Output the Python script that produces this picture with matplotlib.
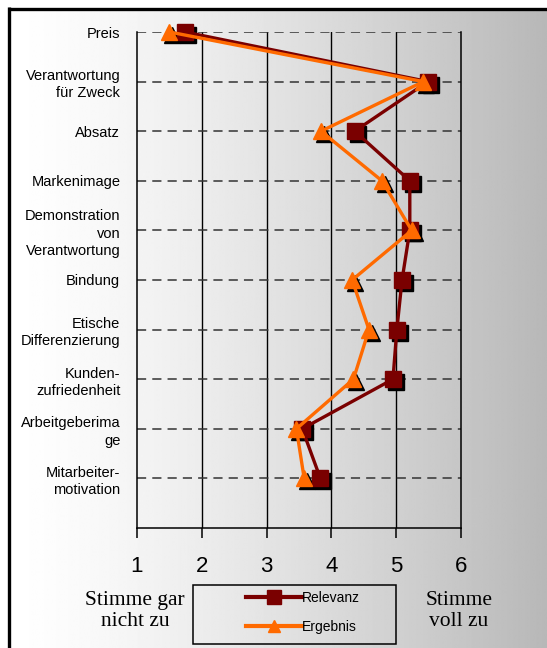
import numpy as np
import matplotlib
matplotlib.use('Agg')
import matplotlib.pyplot as plt
from matplotlib.lines import Line2D
from matplotlib.patches import Rectangle
from matplotlib.transforms import offset_copy

# Kategorien von oben nach unten
kategorien = ['Preis', 'Verantwortung\nfür Zweck', 'Absatz', 'Markenimage',
              'Demonstration\nvon\nVerantwortung', 'Bindung', 'Etische\nDifferenzierung',
              'Kunden-\nzufriedenheit', 'Arbeitgeberima\nge', 'Mitarbeiter-\nmotivation']

# Mittelwerte (1 = stimme gar nicht zu, 6 = stimme voll zu)
relevanz = [1.74, 5.49, 4.36, 5.21, 5.21, 5.09, 5.01, 4.95, 3.55, 3.83]
ergebnis = [1.50, 5.42, 3.84, 4.78, 5.24, 4.32, 4.58, 4.34, 3.46, 3.58]

x_ticks = [1, 2, 3, 4, 5, 6]

W, H = 547, 648
fig = plt.figure(figsize=(W / 100, H / 100), dpi=100)

# Hintergrund mit Farbverlauf und Rahmen (in Pixelkoordinaten)
bg = fig.add_axes([0, 0, 1, 1], zorder=-5)
bg.set_xlim(0, W)
bg.set_ylim(H, 0)
bg.axis('off')
t = np.linspace(0, 1, 400)
grau = 1 - 0.28 * t ** 1.3
bg.imshow(np.tile(grau, (2, 1)), cmap='gray', vmin=0, vmax=1, aspect='auto',
          extent=(10, W, H, 10), interpolation='bilinear')
bg.plot([8, W], [8.5, 8.5], color='black', lw=2.4, solid_capstyle='butt')
bg.plot([9, 9], [7.3, H], color='black', lw=2.4, solid_capstyle='butt')

# Legendenrahmen
bg.add_patch(Rectangle((193, 585), 203, 59, fill=False, edgecolor='black', lw=1.1))

# Texte unter der Achse
bg.text(135, 611, 'Stimme gar\nnicht zu', ha='center', va='center', fontsize=15.5,
        family='Liberation Serif', linespacing=1.15)
bg.text(459, 611, 'Stimme\nvoll zu', ha='center', va='center', fontsize=15.5,
        family='Liberation Serif', linespacing=1.15)

ax = fig.add_axes([137 / W, 1 - 528 / H, 324 / W, 496 / H])
ax.patch.set_alpha(0)
ax.set_xlim(1, 6)
ax.set_ylim(10, 0)

y = np.arange(len(kategorien))

# Gitterlinien
for v in x_ticks[1:-1]:
    ax.axvline(v, color='black', lw=1.0, zorder=1)
for yy in y:
    ax.axhline(yy, color='#333333', lw=1.1, dashes=(6, 4), zorder=1)

for s in ['left', 'right', 'bottom']:
    ax.spines[s].set_linewidth(1.1)
ax.spines['top'].set_visible(False)

ax.set_xticks(x_ticks)
ax.set_xticklabels([str(v) for v in x_ticks], fontsize=16, family='Liberation Sans')
ax.tick_params(axis='x', length=7, width=1.1, pad=13)
ax.set_yticks(y)
ax.set_yticklabels(kategorien, fontsize=10.5, family='Liberation Sans', linespacing=1.3)
ax.tick_params(axis='y', length=0, pad=12)
for lab in ax.get_yticklabels():
    lab.set_horizontalalignment('right')

rot = '#7a0000'
orange = '#ff6a00'

# Schatten der Marker
schatten = offset_copy(ax.transData, fig=fig, x=3, y=-3, units='dots')
ax.plot(relevanz, y, 's', color='black', ms=11.5, transform=schatten, zorder=2, clip_on=False)
ax.plot(ergebnis, y, '^', color='black', ms=11.5, transform=schatten, zorder=2, clip_on=False)

ax.plot(relevanz, y, '-s', color=rot, lw=2.4, ms=11.5, zorder=3, clip_on=False)
ax.plot(ergebnis, y, '-^', color=orange, lw=2.4, ms=11.5, zorder=4, clip_on=False)

# Legende
handles = [Line2D([], [], color=rot, lw=3, marker='s', ms=10),
           Line2D([], [], color=orange, lw=3, marker='^', ms=8)]
fig.legend(handles, ['Relevanz', 'Ergebnis'], loc='upper left',
           bbox_to_anchor=(239 / W, 1 - 584 / H), frameon=False, borderpad=0,
           handlelength=4.0, handletextpad=0.0, labelspacing=1.05,
           prop={'family': 'Liberation Sans', 'size': 10})

fig.savefig('out.png', dpi=100)
